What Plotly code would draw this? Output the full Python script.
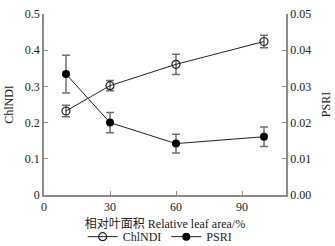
import plotly.graph_objects as go

x_vals = [10, 30, 60, 100]
chlndi = [0.232, 0.302, 0.361, 0.424]
chlndi_err = [0.016, 0.014, 0.028, 0.017]
psri = [0.0334, 0.0200, 0.0142, 0.0161]
psri_err = [0.0052, 0.0028, 0.0026, 0.0027]

x_ticks = [0, 30, 60, 90]
y1_ticks = [0, 0.1, 0.2, 0.3, 0.4, 0.5]
y1_labels = ["0", "0.1", "0.2", "0.3", "0.4", "0.5"]
y2_ticks = [0, 0.01, 0.02, 0.03, 0.04, 0.05]
y2_labels = ["0.00", "0.01", "0.02", "0.03", "0.04", "0.05"]

serif = "'Liberation Serif', 'Times New Roman', Times, serif"
axis_col = "#8a8a8a"
err_col = "#707070"

fig = go.Figure()
fig.add_trace(go.Scatter(
    x=x_vals, y=chlndi, name="ChlNDI", mode="lines+markers",
    line=dict(color="#222222", width=1),
    marker=dict(symbol="circle-open", size=8, color="#222222", line=dict(width=1.2)),
    error_y=dict(type="data", array=chlndi_err, color=err_col, thickness=1.5, width=4),
))
fig.add_trace(go.Scatter(
    x=x_vals, y=psri, name="PSRI", mode="lines+markers", yaxis="y2",
    line=dict(color="#222222", width=1),
    marker=dict(symbol="circle", size=8, color="#000000"),
    error_y=dict(type="data", array=psri_err, color=err_col, thickness=1.5, width=4),
))

fig.update_layout(
    width=335, height=246,
    margin=dict(l=44, r=49, t=14, b=51, autoexpand=False),
    paper_bgcolor="white", plot_bgcolor="white",
    font=dict(family=serif, size=12, color="#222222"),
    showlegend=True,
    legend=dict(orientation="h", x=0.48, xanchor="center", y=-0.23, yanchor="middle",
                font=dict(size=12, family=serif), tracegroupgap=0,
                bgcolor="rgba(0,0,0,0)"),
    xaxis=dict(
        range=[0, 110], tickvals=x_ticks, ticks="inside", ticklen=4, tickcolor=axis_col,
        showline=True, linecolor=axis_col, linewidth=1.5, showgrid=False, zeroline=False,
        automargin=False,
        title=dict(text="相对叶面积 Relative leaf area/%", standoff=6,
                   font=dict(size=12, family="'Liberation Serif', 'Noto Sans CJK SC', serif")),
    ),
    yaxis=dict(
        range=[0, 0.5], tickvals=y1_ticks, ticktext=y1_labels, ticks="inside", ticklen=4,
        tickcolor=axis_col, showline=True, linecolor=axis_col, linewidth=1.5,
        showgrid=False, zeroline=False, automargin=False,
        title=dict(text="ChlNDI", standoff=9, font=dict(size=12)),
    ),
    yaxis2=dict(
        range=[0, 0.05], tickvals=y2_ticks, ticktext=y2_labels, ticks="inside", ticklen=4,
        tickcolor=axis_col, showline=True, linecolor=axis_col, linewidth=1.5,
        showgrid=False, zeroline=False, overlaying="y", side="right", automargin=False,
        title=dict(text="PSRI", standoff=11, font=dict(size=12)),
    ),
)

fig.write_html("out.html", config={"displayModeBar": False},
               post_script="document.body.style.margin='0';document.body.style.overflow='hidden';")
